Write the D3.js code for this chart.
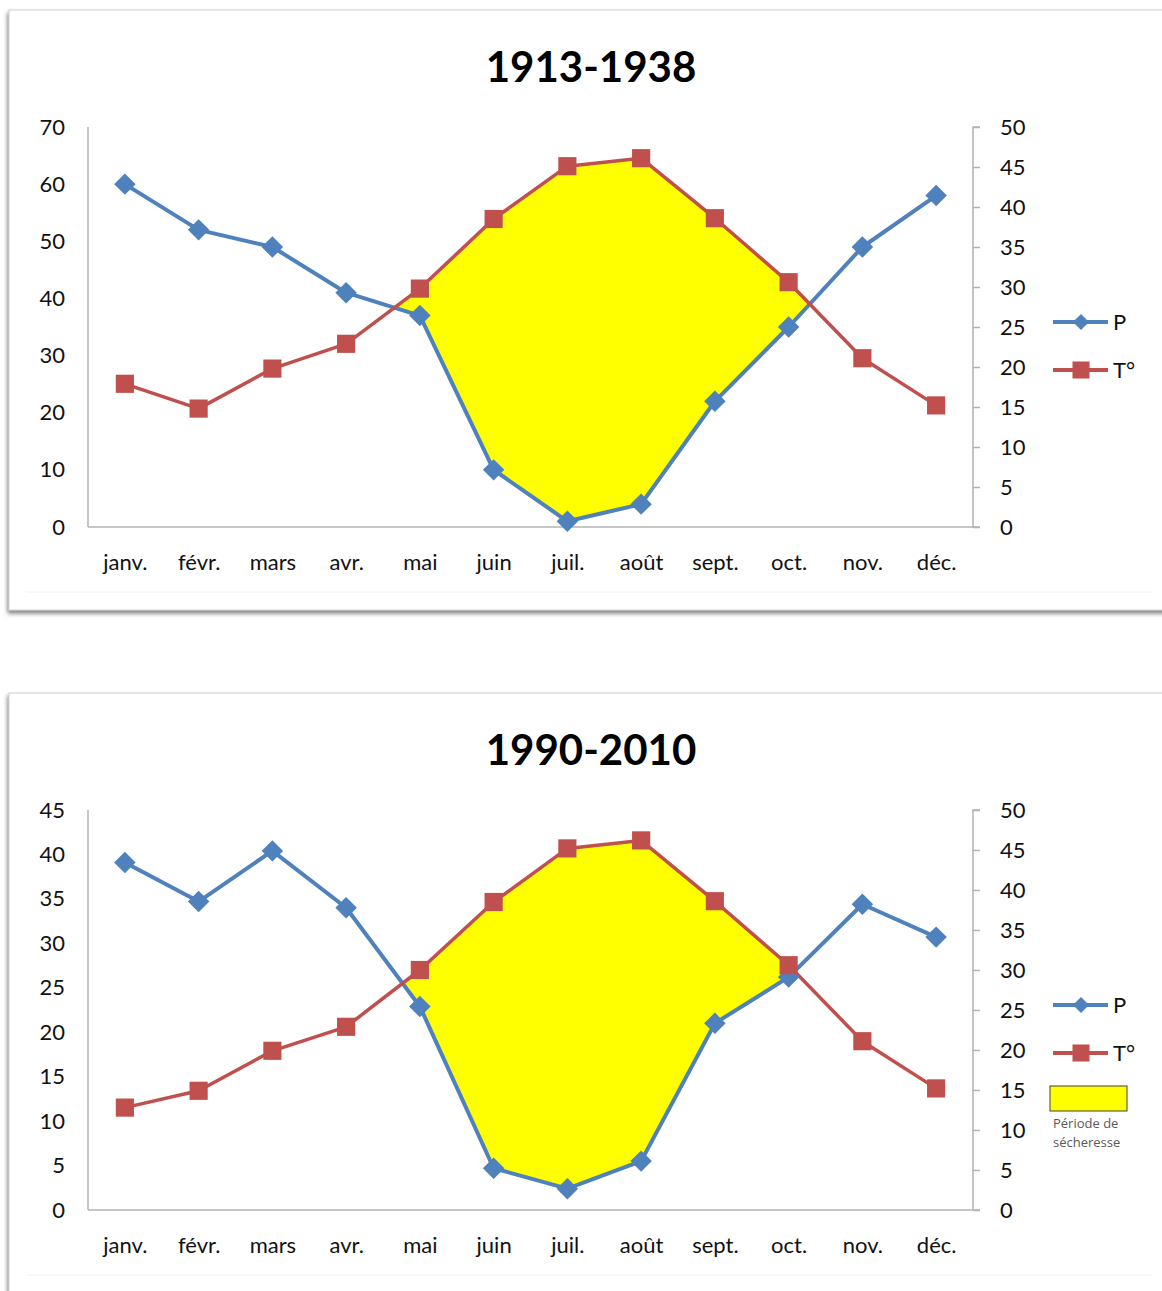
<!DOCTYPE html>
<html lang="fr">
<head>
<meta charset="utf-8">
<title>Diagrammes ombrothermiques 1913-1938 et 1990-2010</title>
<script src="https://cdn.jsdelivr.net/npm/d3@7/dist/d3.min.js"></script>
<style>
  html, body { margin: 0; padding: 0; background: #ffffff; }
  svg { display: block; }
  text { font-family: Lato, "Open Sans", "Noto Sans", sans-serif; fill: #111; }
</style>
</head>
<body>
<svg id="chart" width="1162" height="1291"></svg>
<script>
// Mois de l'année
const months = ["janv.", "févr.", "mars", "avr.", "mai", "juin", "juil.", "août", "sept.", "oct.", "nov.", "déc."];

// Période 1913-1938 : précipitations (axe gauche) et températures (axe droit)
const precip1913 = [60, 52, 49, 41, 37, 10, 1, 4, 22, 35, 49, 58];
const temp1913 = [17.9, 14.8, 19.8, 22.9, 29.8, 38.5, 45.1, 46.1, 38.6, 30.6, 21.1, 15.2];

// Période 1990-2010
const precip1990 = [39.1, 34.7, 40.4, 34.0, 22.9, 4.7, 2.4, 5.5, 21.0, 26.2, 34.4, 30.7];
const temp1990 = [12.8, 14.9, 19.9, 22.9, 30.0, 38.5, 45.2, 46.2, 38.6, 30.6, 21.1, 15.2];

// Graduations des axes
const leftTicks1913 = [0, 10, 20, 30, 40, 50, 60, 70];
const leftTicks1990 = [0, 5, 10, 15, 20, 25, 30, 35, 40, 45];
const rightTicks = [0, 5, 10, 15, 20, 25, 30, 35, 40, 45, 50];

const COLOR_P = "#4f81bd";
const COLOR_T = "#c0504d";
const COLOR_DRY = "#ffff00";
const AXIS_COLOR = "#b3b3b3";

const svg = d3.select("#chart");

// Ombre portée des cadres
const defs = svg.append("defs");
const shadow = defs.append("filter").attr("id", "panelShadow")
  .attr("x", "-5%").attr("y", "-5%").attr("width", "110%").attr("height", "115%");
shadow.append("feDropShadow")
  .attr("dx", -1).attr("dy", 3).attr("stdDeviation", 2)
  .attr("flood-color", "#555").attr("flood-opacity", 0.75);

const panels = [
  { title: "1913-1938", top: 10, height: 600, precip: precip1913, temp: temp1913, leftTicks: leftTicks1913, withDryLegend: false },
  { title: "1990-2010", top: 693, height: 640, precip: precip1990, temp: temp1990, leftTicks: leftTicks1990, withDryLegend: true }
];

const plotLeft = 88, plotRight = 973;

panels.forEach(p => {
  const g = svg.append("g");

  g.append("rect")
    .attr("x", 9).attr("y", p.top)
    .attr("width", 1180).attr("height", p.height)
    .attr("fill", "#ffffff")
    .attr("stroke", "#d0d0d0").attr("stroke-width", 1)
    .attr("filter", "url(#panelShadow)");

  const plotTop = p.top + 117, plotBottom = p.top + 517;

  const x = d3.scalePoint().domain(months).range([plotLeft, plotRight]).padding(0.5);
  const yP = d3.scaleLinear().domain([0, d3.max(p.leftTicks)]).range([plotBottom, plotTop]);
  const yT = d3.scaleLinear().domain([0, d3.max(rightTicks)]).range([plotBottom, plotTop]);

  // Titre
  g.append("text")
    .attr("x", 591).attr("y", p.top + 72)
    .attr("text-anchor", "middle")
    .style("font-weight", "bold").style("font-size", "42px")
    .style("fill", "#000")
    .text(p.title);

  // Axes
  const axisL = g.append("g").attr("transform", `translate(${plotLeft},0)`)
    .call(d3.axisLeft(yP).tickValues(p.leftTicks).tickSize(0).tickPadding(23));
  const axisR = g.append("g").attr("transform", `translate(${plotRight},0)`)
    .call(d3.axisRight(yT).tickValues(rightTicks).tickSize(7).tickPadding(20));
  const axisB = g.append("g").attr("transform", `translate(0,${plotBottom})`)
    .call(d3.axisBottom(x).tickSize(0).tickPadding(27));

  [axisL, axisR, axisB].forEach(a => {
    a.select(".domain").attr("stroke", AXIS_COLOR).attr("stroke-width", 1.5);
    a.selectAll(".tick line").attr("stroke", AXIS_COLOR).attr("stroke-width", 1.5);
    a.selectAll(".tick text").style("font-size", "22px").style("fill", "#111")
      .style("font-family", "Lato, 'Open Sans', sans-serif");
  });
  axisR.select(".domain").attr("d", `M7,${plotTop}H0V${plotBottom}H7`);
  axisL.select(".domain").attr("d", `M0,${plotTop}V${plotBottom}`);
  axisB.select(".domain").attr("d", `M${plotLeft},0H${plotRight}`);

  // Période de sécheresse : zone où la courbe T passe au-dessus de la courbe P
  const pts = months.map((m, i) => ({ x: x(m), yt: yT(p.temp[i]), yp: yP(p.precip[i]) }));
  const upper = [], lower = [];
  for (let i = 0; i < pts.length; i++) {
    const a = pts[i];
    const dryA = a.yt < a.yp;
    if (dryA) { upper.push([a.x, a.yt]); lower.push([a.x, a.yp]); }
    if (i < pts.length - 1) {
      const b = pts[i + 1];
      const dryB = b.yt < b.yp;
      if (dryA !== dryB) {
        const da = a.yt - a.yp, db = b.yt - b.yp;
        const t = da / (da - db);
        const cx = a.x + t * (b.x - a.x);
        const cy = a.yt + t * (b.yt - a.yt);
        upper.push([cx, cy]); lower.push([cx, cy]);
      }
    }
  }
  const poly = upper.concat(lower.slice().reverse());
  g.append("path")
    .attr("d", d3.line()(poly) + "Z")
    .attr("fill", COLOR_DRY);

  // Courbes
  g.append("path")
    .attr("d", d3.line()(pts.map(d => [d.x, d.yp])))
    .attr("fill", "none").attr("stroke", COLOR_P).attr("stroke-width", 4)
    .attr("stroke-linejoin", "round");
  g.append("path")
    .attr("d", d3.line()(pts.map(d => [d.x, d.yt])))
    .attr("fill", "none").attr("stroke", COLOR_T).attr("stroke-width", 3.5)
    .attr("stroke-linejoin", "round");

  // Marqueurs
  const diamond = d3.symbol().type(d3.symbolSquare).size(230);
  const square = d3.symbol().type(d3.symbolSquare).size(330);
  g.selectAll(".mp").data(pts).join("path")
    .attr("d", diamond)
    .attr("transform", d => `translate(${d.x},${d.yp}) rotate(45)`)
    .attr("fill", COLOR_P);
  g.selectAll(".mt").data(pts).join("path")
    .attr("d", square)
    .attr("transform", d => `translate(${d.x},${d.yt})`)
    .attr("fill", COLOR_T);

  // Légende
  const legY1 = p.top + 312, legY2 = p.top + 360;
  g.append("line").attr("x1", 1053).attr("x2", 1108).attr("y1", legY1).attr("y2", legY1)
    .attr("stroke", COLOR_P).attr("stroke-width", 4);
  g.append("path").attr("d", d3.symbol().type(d3.symbolSquare).size(130))
    .attr("transform", `translate(1081,${legY1}) rotate(45)`).attr("fill", COLOR_P);
  g.append("text").attr("x", 1113).attr("y", legY1 + 8).style("font-size", "22px").text("P");

  g.append("line").attr("x1", 1053).attr("x2", 1108).attr("y1", legY2).attr("y2", legY2)
    .attr("stroke", COLOR_T).attr("stroke-width", 4);
  g.append("path").attr("d", d3.symbol().type(d3.symbolSquare).size(290))
    .attr("transform", `translate(1081,${legY2})`).attr("fill", COLOR_T);
  g.append("text").attr("x", 1113).attr("y", legY2 + 8).style("font-size", "22px").text("T°");

  if (p.withDryLegend) {
    g.append("rect").attr("x", 1050).attr("y", p.top + 393).attr("width", 77).attr("height", 25)
      .attr("fill", COLOR_DRY).attr("stroke", "#404040").attr("stroke-width", 1);
    g.append("text").attr("x", 1053).attr("y", p.top + 435)
      .style("font-size", "13px").style("fill", "#595959")
      .style("font-family", "'Open Sans', Lato, sans-serif").text("Période de");
    g.append("text").attr("x", 1053).attr("y", p.top + 454)
      .style("font-size", "13px").style("fill", "#595959")
      .style("font-family", "'Open Sans', Lato, sans-serif").text("sécheresse");
  }

  // Bordure intérieure discrète de la zone de graphique
  g.append("line").attr("x1", 26).attr("x2", 1152)
    .attr("y1", p.top + 582).attr("y2", p.top + 582)
    .attr("stroke", "#f2f2f2").attr("stroke-width", 1);
});
</script>
</body>
</html>
